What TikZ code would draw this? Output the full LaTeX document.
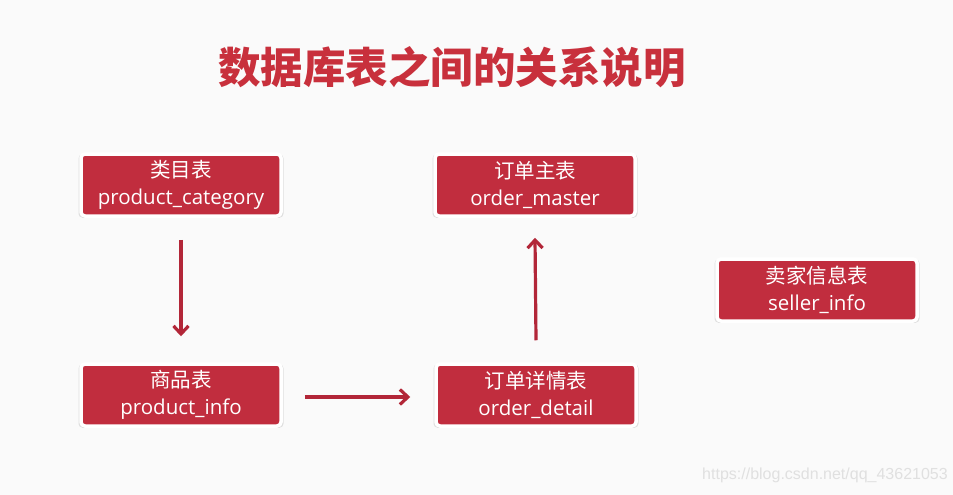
\documentclass[tikz,border=0pt]{standalone}
\usepackage{fontspec}
\setmainfont{Open Sans}
\newfontfamily\cjk{Noto Sans CJK SC}
\usetikzlibrary{arrows.meta,shadows}
\definecolor{boxred}{RGB}{193,45,62}
\definecolor{arrred}{RGB}{178,38,56}
\definecolor{titlered}{RGB}{200,48,60}
\definecolor{bg}{RGB}{250,250,250}
\tikzset{
  tbl/.style={draw=white, line width=3.5pt, fill=boxred, rounded corners=4pt,
    minimum width=200pt, minimum height=62pt, text=white, align=center,
    font=\fontsize{20.5}{27}\selectfont, inner sep=0pt,
    drop shadow={opacity=0.22, shadow xshift=0pt, shadow yshift=-1pt, shadow scale=1.025}},
  arr/.style={draw=arrred, line width=3.2pt, -{Straight Barb[length=8pt,width=15pt,line width=3.2pt]}},
}
\begin{document}
\begin{tikzpicture}[x=1pt,y=-1pt]
\fill[bg] (0,0) rectangle (953,495);
\useasboundingbox (0,0) rectangle (953,495);
\node[text=titlered, font=\cjk\bfseries\fontsize{42.5}{46}\selectfont] (title) at (452,67) {数据库表之间的关系说明};
\node[tbl] (cat) at (181,185) {{\cjk 类目表}\\product\_category};
\node[tbl] (prod) at (181,395) {{\cjk 商品表}\\product\_info};
\node[tbl] (master) at (535,185) {{\cjk 订单主表}\\order\_master};
\node[tbl] (detail) at (536,395) {{\cjk 订单详情表}\\order\_detail};
\node[tbl] (seller) at (817,290) {{\cjk 卖家信息表}\\seller\_info};
\draw[arr] ([yshift=-22pt]cat.south) -- ([yshift=26pt]prod.north);
\draw[arr] ([xshift=22pt,yshift=-2pt]prod.east) -- ([xshift=-24pt,yshift=-2pt]detail.west);
\draw[arr] ([yshift=22pt]detail.north) -- ([yshift=-20pt]master.south);
\node[text=black!12, font=\fontspec{Liberation Sans}\fontsize{16}{18}\selectfont] (wm) at (825,475) {https://blog.csdn.net/qq\_43621053};
\end{tikzpicture}
\end{document}
